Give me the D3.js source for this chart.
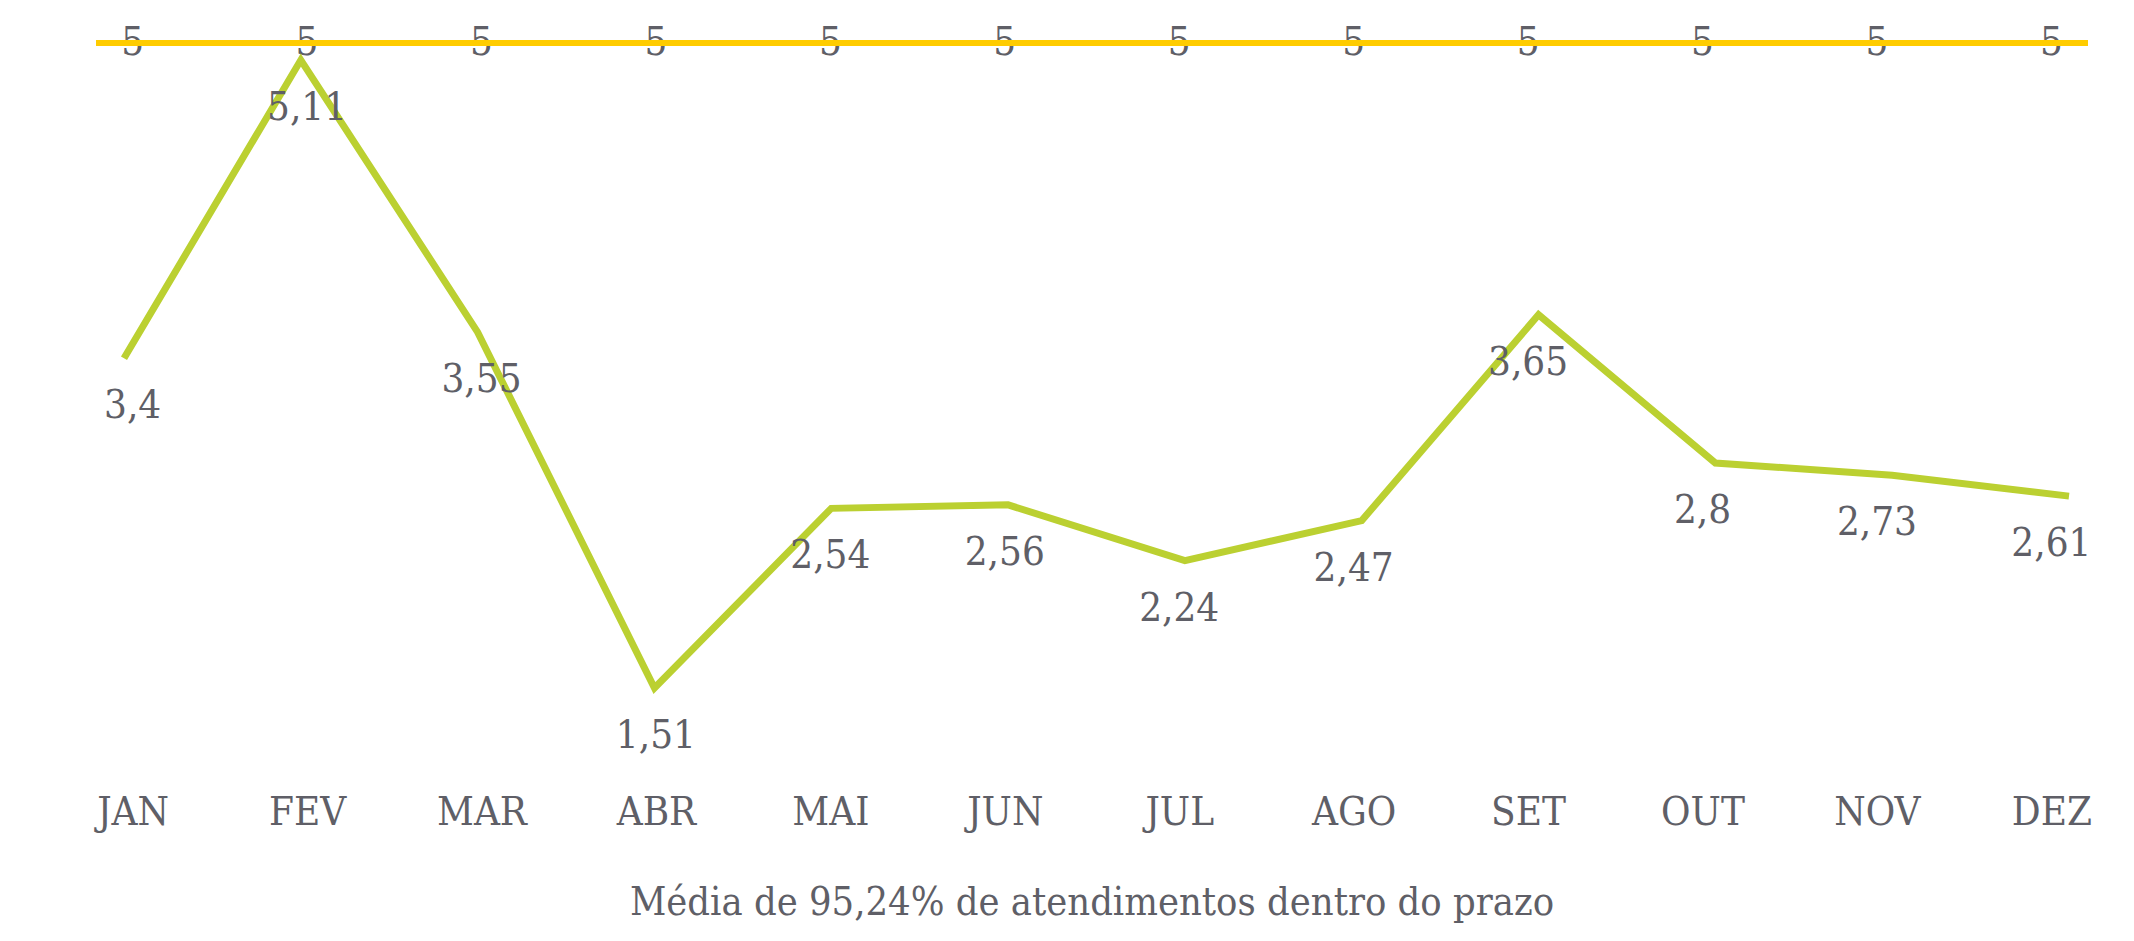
<!DOCTYPE html>
<html lang="pt-BR">
<head>
<meta charset="utf-8">
<title>Média de atendimentos dentro do prazo</title>
<script src="https://cdn.jsdelivr.net/npm/d3@7"></script>
<style>
  html, body { margin: 0; padding: 0; background: #ffffff; }
  svg { display: block; }
  .lbl {
    font-family: "DejaVu Serif Condensed", "DejaVu Serif", serif;
    font-stretch: condensed;
    fill: #5f5f67;
  }
</style>
</head>
<body>
<svg id="chart" width="2134" height="941"></svg>
<script>
// Months of the year
const months = ["JAN", "FEV", "MAR", "ABR", "MAI", "JUN", "JUL", "AGO", "SET", "OUT", "NOV", "DEZ"];
// Monthly average (days)
const averages = [3.4, 5.11, 3.55, 1.51, 2.54, 2.56, 2.24, 2.47, 3.65, 2.8, 2.73, 2.61];
// Target for every month
const targets = [5, 5, 5, 5, 5, 5, 5, 5, 5, 5, 5, 5];
const caption = "Média de 95,24% de atendimentos dentro do prazo";

const svg = d3.select("#chart");

// Horizontal scales: label slots and the average line vertices
const xLabel = d3.scalePoint().domain(months).range([96, 2088]).padding(0.21);
const xLine = d3.scalePoint().domain(months).range([124, 2069]);

// Vertical scales: primary for averages, secondary for the target
const y = d3.scaleLinear().domain([1, 5.5]).range([777, -8]);
const yTarget = d3.scaleLinear().domain([0, 5]).range([777, 43]);

const fmt = v => String(v).replace(".", ",");

// Target value labels (drawn under the target line)
svg.append("g").selectAll("text")
  .data(months)
  .join("text")
  .attr("class", "lbl")
  .attr("x", (m) => xLabel(m))
  .attr("y", (m, i) => yTarget(targets[i]) + 12)
  .attr("text-anchor", "middle")
  .attr("font-size", 40)
  .text((m, i) => fmt(targets[i]));

// Target line across the whole plot width
const targetLine = d3.line()
  .x(d => d.x)
  .y(d => yTarget(d.v));
svg.append("path")
  .datum([{ x: xLabel.range()[0], v: targets[0] }, { x: xLabel.range()[1], v: targets[targets.length - 1] }])
  .attr("d", targetLine)
  .attr("fill", "none")
  .attr("stroke", "#ffcc00")
  .attr("stroke-width", 6);

// Average line
const avgLine = d3.line()
  .x((d, i) => xLine(months[i]))
  .y(d => y(d));
svg.append("path")
  .datum(averages)
  .attr("d", avgLine)
  .attr("fill", "none")
  .attr("stroke", "#bbd031")
  .attr("stroke-width", 7)
  .attr("stroke-linejoin", "miter");

// Average value labels below each vertex
svg.append("g").selectAll("text")
  .data(averages)
  .join("text")
  .attr("class", "lbl")
  .attr("x", (d, i) => xLabel(months[i]))
  .attr("y", d => y(d) + 60)
  .attr("text-anchor", "middle")
  .attr("font-size", 40)
  .text(d => fmt(d));

// Month axis labels
const xAxis = d3.axisBottom(xLabel).tickSize(0).tickPadding(0);
const axisG = svg.append("g")
  .attr("transform", "translate(0,797)")
  .call(xAxis);
axisG.select(".domain").remove();
axisG.selectAll("text")
  .attr("class", "lbl")
  .attr("font-size", 40)
  .attr("dy", null)
  .attr("y", 28);

// Caption
svg.append("text")
  .attr("class", "lbl")
  .attr("x", (xLabel.range()[0] + xLabel.range()[1]) / 2)
  .attr("y", 915)
  .attr("text-anchor", "middle")
  .attr("font-size", 39.5)
  .text(caption);
</script>
</body>
</html>
